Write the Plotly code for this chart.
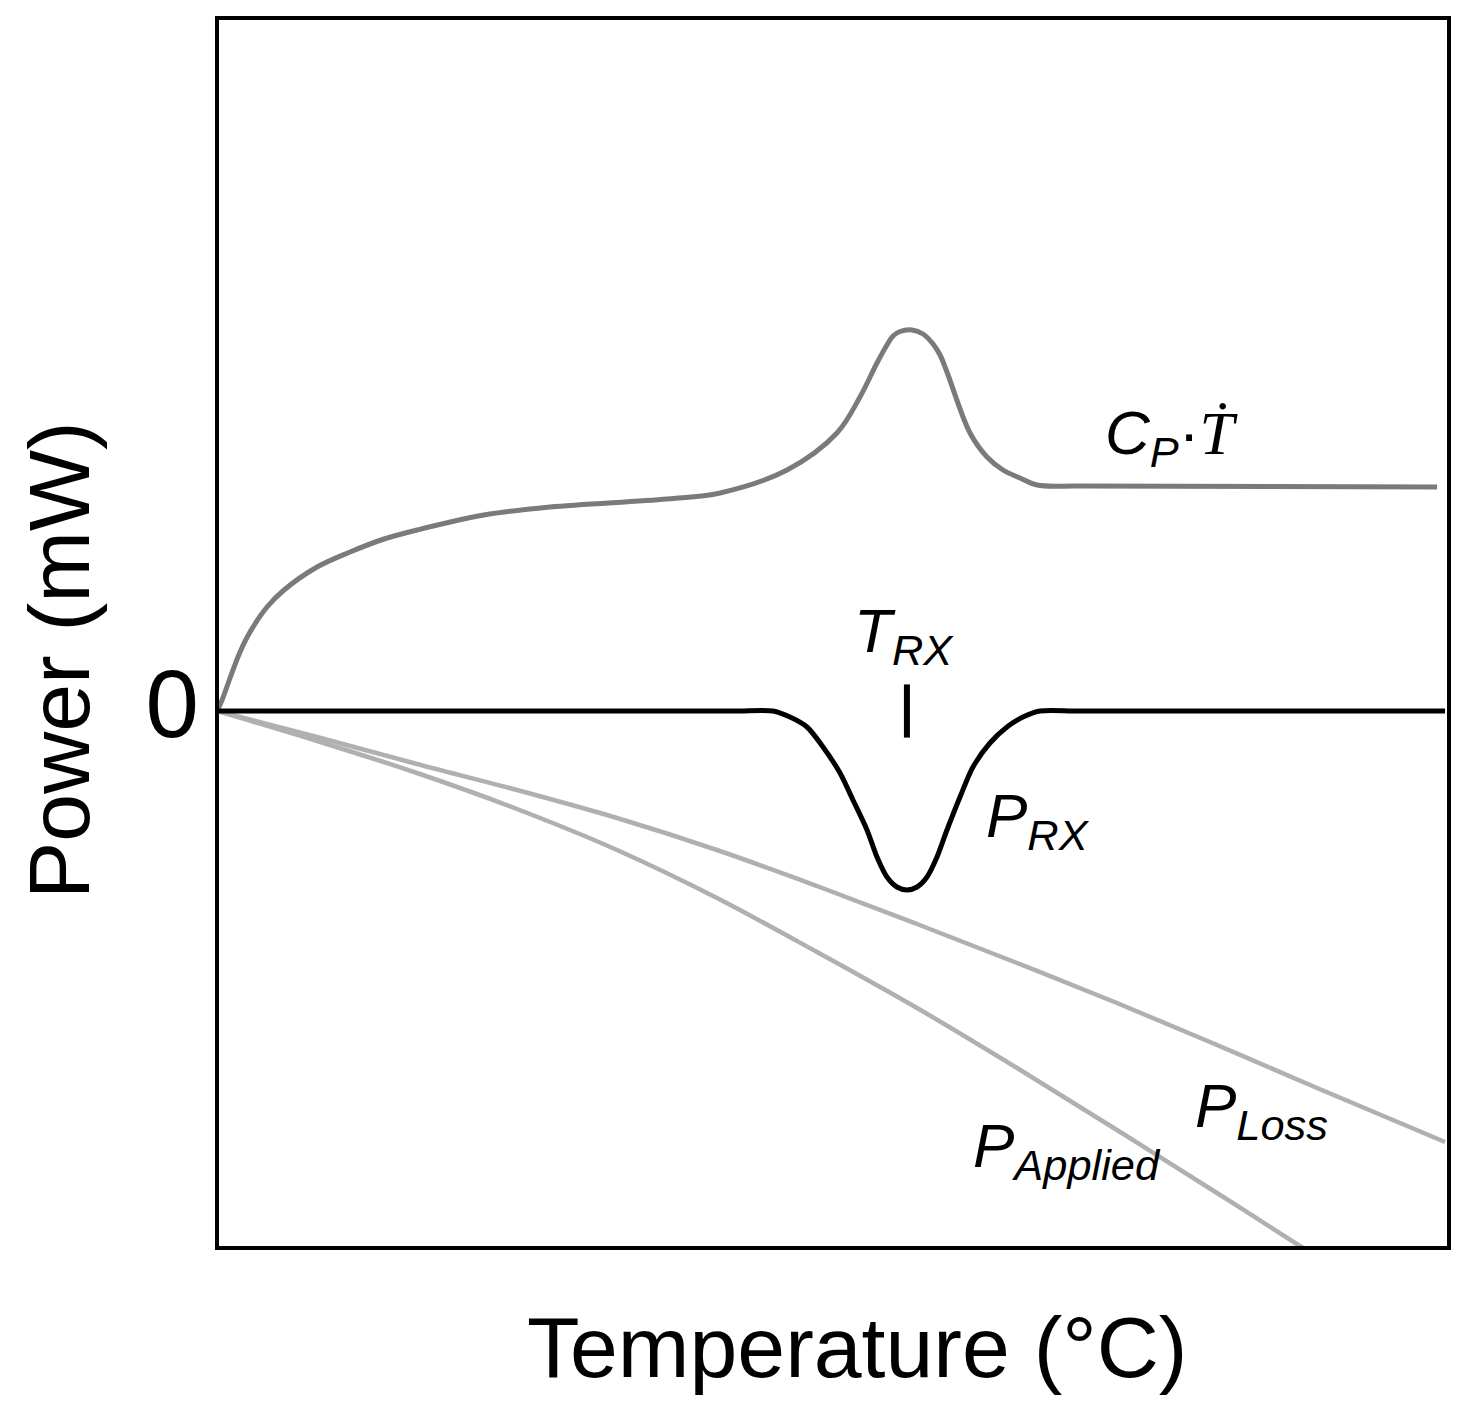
import plotly.graph_objects as go

# ---- data ----
temp_cp = [0, 0.41, 1.06, 1.87, 2.68, 4.06, 5.44, 8.12, 10.8, 13.56, 16.23, 21.67, 27.03,
           36.53, 40.83, 46.27, 50.32, 52.19, 53.57, 54.38, 54.87, 55.44, 56.41, 57.31,
           58.12, 58.69, 59.25, 61.12, 62.5, 63.8, 65.18, 66.56, 70.05, 99.03]
power_cp = [0, 1.1, 3.3, 5.9, 7.9, 10.4, 12.1, 14.4, 15.9, 17.2, 18.1, 19.6, 20.4,
            21.2, 21.8, 24.1, 27.8, 31.4, 34.8, 36.6, 37.5, 37.95, 38.1, 37.7,
            36.7, 35.6, 33.9, 27.8, 25.4, 24.1, 23.3, 22.6, 22.5, 22.4]

temp_rx = [0, 15, 30, 42, 45.13, 46.51, 47.89, 49.19, 50.57, 51.62, 52.76, 53.57, 54.38,
           55.19, 56.0, 56.82, 57.63, 58.44, 59.25, 60.31, 61.36, 62.74, 64.12, 65.42,
           66.8, 70, 85, 99.68]
power_rx = [0, 0, 0, 0, 0, -0.6, -1.6, -3.6, -6.2, -8.9, -11.9, -14.6, -16.6,
            -17.6, -17.9, -17.6, -16.6, -14.6, -11.9, -8.6, -5.6, -3.2, -1.6, -0.6,
            0, 0, 0, 0]

temp_loss = [0, 8.12, 16.23, 24.35, 32.47, 40.58, 48.7, 56.82, 64.94, 73.05, 81.17, 89.29, 99.68]
power_loss = [0, -2.6, -5.3, -7.9, -10.7, -13.9, -17.5, -21.3, -25.2, -29.2, -33.4, -37.7, -43.1]

temp_applied = [0, 8.12, 16.23, 24.35, 32.47, 40.58, 48.7, 56.82, 64.94, 73.05, 81.17,
                88.15, 89.53]
power_applied = [0, -3.0, -6.2, -9.8, -13.9, -18.7, -24.1, -29.7, -35.7, -41.9, -48.2,
                 -53.7, -54.8]

x_title = "Temperature (°C)"
y_title = "Power (mW)"

# reaction temperature = position of the P_RX minimum
i_min = power_rx.index(min(power_rx))
t_rx = temp_rx[i_min]

FONT = "Liberation Sans, Arial, sans-serif"

fig = go.Figure()
fig.add_trace(go.Scatter(x=temp_loss, y=power_loss, mode="lines",
                         line=dict(color="#b0b0b0", width=4.5, shape="spline", smoothing=1.0),
                         name="P_Loss"))
fig.add_trace(go.Scatter(x=temp_applied, y=power_applied, mode="lines",
                         line=dict(color="#b0b0b0", width=4.5, shape="spline", smoothing=1.0),
                         name="P_Applied"))
fig.add_trace(go.Scatter(x=temp_cp, y=power_cp, mode="lines",
                         line=dict(color="#7a7a7a", width=5, shape="spline", smoothing=1.0),
                         name="Cp·T"))
fig.add_trace(go.Scatter(x=temp_rx, y=power_rx, mode="lines",
                         line=dict(color="#000000", width=5, shape="spline", smoothing=0.8),
                         name="P_RX"))
fig.add_trace(go.Scatter(x=[t_rx], y=[0], mode="markers",
                         marker=dict(symbol="line-ns", size=38, line=dict(width=6, color="black")),
                         name="T_RX", cliponaxis=False))

annots = [
    (77.5, 27.4, "<i>C<sub>P</sub></i>·<span style=\"font-family:Liberation Serif\"><i>Ṫ</i></span>", 62),
    (55.8, 7.6, "<i>T<sub>RX</sub></i>", 62),
    (66.6, -10.9, "<i>P<sub>RX</sub></i>", 62),
    (84.8, -39.9, "<i>P<sub>Loss</sub></i>", 62),
    (69.0, -43.9, "<i>P<sub>Applied</sub></i>", 62),
]
for x, y, t, s in annots:
    fig.add_annotation(x=x, y=y, text=t, showarrow=False,
                       font=dict(family=FONT, size=s, color="black"),
                       xanchor="center", yanchor="middle")

# axis titles
fig.add_annotation(xref="paper", yref="paper", x=0.5195, y=0, yshift=-99,
                   text=x_title, showarrow=False, xanchor="center", yanchor="middle",
                   font=dict(family=FONT, size=86, color="black"))
fig.add_annotation(xref="paper", yref="paper", x=0, y=0.478, xshift=-158,
                   text=y_title, showarrow=False, textangle=-90,
                   xanchor="center", yanchor="middle",
                   font=dict(family=FONT, size=86, color="black"))

fig.add_shape(type="rect", xref="paper", yref="paper", x0=0, x1=1, y0=0, y1=1,
              line=dict(color="black", width=4), layer="above")

fig.update_layout(
    width=1466, height=1411,
    margin=dict(l=209, r=25, t=10, b=171),
    paper_bgcolor="white", plot_bgcolor="white",
    showlegend=False,
    font=dict(family=FONT, color="black"),
    xaxis=dict(range=[0, 100], showgrid=False, zeroline=False, showticklabels=False,
               ticks="", showline=False),
    yaxis=dict(range=[-53.7, 69.3], showgrid=False, zeroline=False, tickvals=[0],
               ticktext=["0"], ticks="", tickfont=dict(size=96, family=FONT), showline=False,
               ticklabelstandoff=17, ticklabelshift=-8),
)

fig.write_html("out.html")
